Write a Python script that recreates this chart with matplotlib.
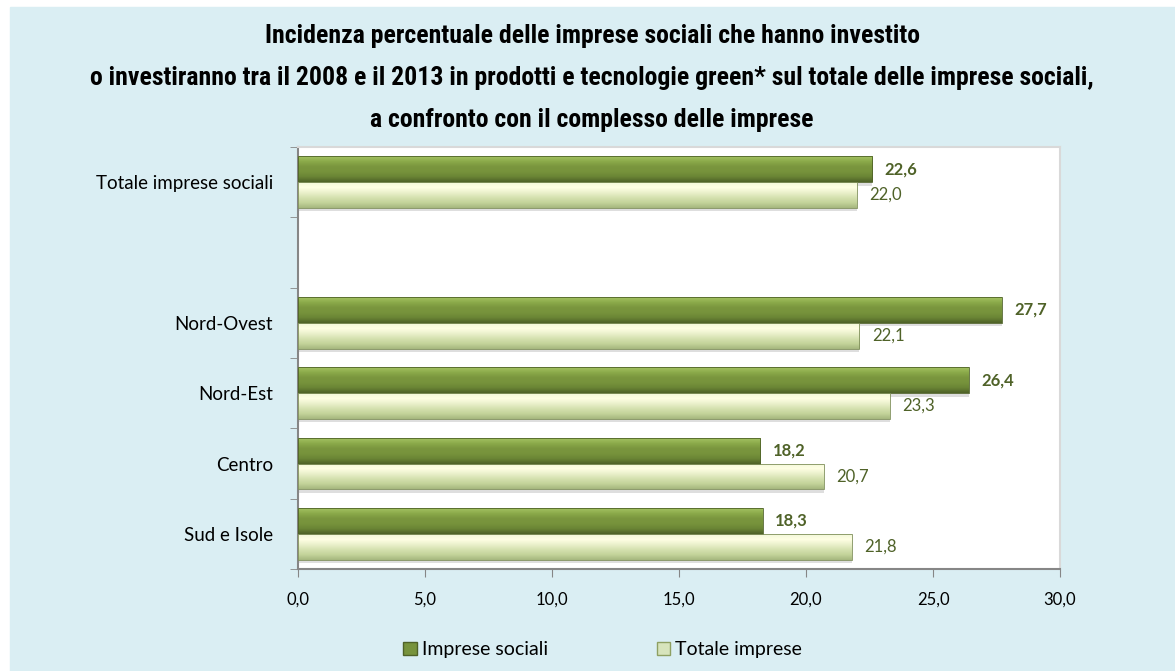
import numpy as np
import matplotlib
matplotlib.use('Agg')
import matplotlib.pyplot as plt
from matplotlib import font_manager
from matplotlib.colors import LinearSegmentedColormap
from matplotlib.patches import Rectangle

# dati
categorie = ['Totale imprese sociali', '', 'Nord-Ovest', 'Nord-Est', 'Centro', 'Sud e Isole']
imprese_sociali = [22.6, np.nan, 27.7, 26.4, 18.2, 18.3]
totale_imprese = [22.0, np.nan, 22.1, 23.3, 20.7, 21.8]
serie = ['Imprese sociali', 'Totale imprese']
xticks = [0, 5, 10, 15, 20, 25, 30]

titolo = ("Incidenza percentuale delle imprese sociali che hanno investito\n"
          "o investiranno tra il 2008 e il 2013 in prodotti e tecnologie green* sul totale delle imprese sociali,\n"
          "a confronto con il complesso delle imprese")

plt.rcParams['font.family'] = ['Lato', 'DejaVu Sans']

fig = plt.figure(figsize=(11.75, 6.71), dpi=100, facecolor='white')
sfondo = Rectangle((10 / 1175, 0), 1 - 10 / 1175, 1 - 7 / 671,
                   transform=fig.transFigure, color='#DAEEF3', zorder=-10)
fig.add_artist(sfondo)

ax = fig.add_axes([298 / 1175, 1 - 569 / 671, 762 / 1175, 422 / 671])
ax.set_facecolor('white')

y = np.arange(len(categorie))
h = 0.365

# colori dall'alto verso il basso della barra
scuro = LinearSegmentedColormap.from_list('scuro', ['#A4C262', '#8BAA4A', '#7A963E', '#77933C', '#6A8535', '#4F6228'])
chiaro = LinearSegmentedColormap.from_list('chiaro', ['#F2F7D8', '#FFFFE4', '#EBF1CC', '#D5E1B0', '#C3D39A', '#A6B77F'])

b1 = ax.barh(y - h / 2, imprese_sociali, height=h, color='#77933C', label=serie[0], zorder=3)
b2 = ax.barh(y + h / 2, totale_imprese, height=h, color='#D7E4BC', label=serie[1], zorder=3)

# gradiente sulle barre
grad = np.linspace(0, 1, 64).reshape(-1, 1)
for barre, cmap in [(b1, scuro), (b2, chiaro)]:
    for p in barre.patches:
        w = p.get_width()
        if not np.isfinite(w):
            continue
        x0, y0, hh = p.get_x(), p.get_y(), p.get_height()
        # ombra
        ax.add_patch(Rectangle((x0, y0 + hh), w, hh * 0.14, color='#BFBFBF', alpha=0.5, zorder=2, lw=0))
        im = ax.imshow(grad, cmap=cmap, aspect='auto', extent=(x0, x0 + w, y0 + hh, y0),
                       origin='upper', zorder=4)
        im.set_clip_path(p)
        ax.add_patch(Rectangle((x0, y0), w, hh, fill=False,
                               edgecolor='#7F8F5A' if cmap is chiaro else '#4F6228', lw=0.6, zorder=5))

fmt = lambda v: ('%.1f' % v).replace('.', ',')
for i in range(len(categorie)):
    if np.isfinite(imprese_sociali[i]):
        ax.annotate(fmt(imprese_sociali[i]), (imprese_sociali[i], y[i] - h / 2),
                    xytext=(9, 0), textcoords='offset points', va='center', ha='left',
                    fontsize=12, fontweight='bold', color='#4F6228')
    if np.isfinite(totale_imprese[i]):
        ax.annotate(fmt(totale_imprese[i]), (totale_imprese[i], y[i] + h / 2),
                    xytext=(9, 0), textcoords='offset points', va='center', ha='left',
                    fontsize=12, color='#4F6228')

ax.set_xlim(0, 30)
ax.set_ylim(len(categorie) - 0.5, -0.5)
ax.set_xticks(xticks)
ax.set_xticklabels([fmt(t) for t in xticks], fontsize=12)
ax.set_yticks(y)
ax.set_yticklabels(categorie, fontsize=13.5)
ax.set_yticks(np.arange(len(categorie) + 1) - 0.5, minor=True)
ax.tick_params(axis='y', which='major', length=0, pad=18)
ax.tick_params(axis='y', which='minor', length=6, color='#868686', direction='out')
ax.tick_params(axis='x', length=6, color='#868686', direction='out', pad=10)

for s in ['left', 'bottom']:
    ax.spines[s].set_color('#868686')
    ax.spines[s].set_linewidth(1.5)
for s in ['top', 'right']:
    ax.spines[s].set_color('#D9D9D9')
    ax.spines[s].set_linewidth(1.5)

# titolo: carattere stretto se disponibile
nomi = {f.name for f in font_manager.fontManager.ttflist}
stretto = [n for n in ['Liberation Sans Narrow', 'DejaVu Sans Condensed', 'Roboto Condensed'] if n in nomi]
if stretto:
    fam, fs = [stretto[0], 'DejaVu Sans'], 18.5
else:
    fam, fs = ['Roboto', 'DejaVu Sans'], 17.4
fig.text(0.504, 1 - 24 / 671, titolo, ha='center', va='top', fontsize=fs, fontweight='bold',
         family=fam, stretch='condensed', linespacing=1.95, color='black')

leg = ax.legend(loc='upper center', bbox_to_anchor=(0.40, -0.13), ncol=2, frameon=False,
                fontsize=14, handlelength=0.7, handleheight=0.7, columnspacing=5.6, handletextpad=0.25)
leg.legend_handles[0].set_edgecolor('#4F6228')
leg.legend_handles[1].set_edgecolor('#8EA062')

fig.savefig('out.png', dpi=100, facecolor='white')
